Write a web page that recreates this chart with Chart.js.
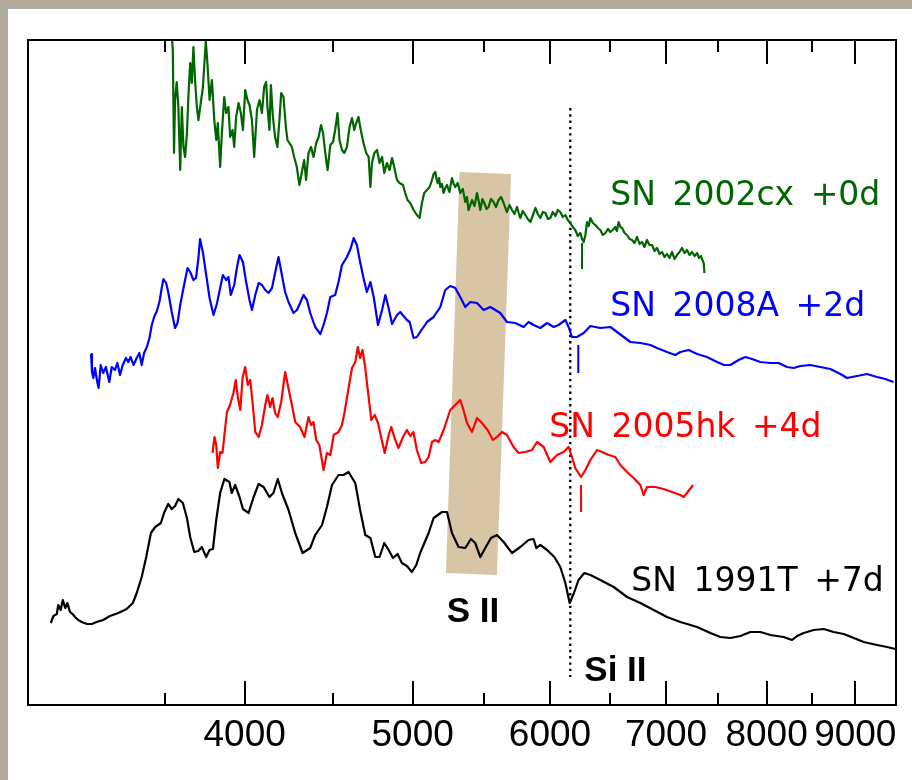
<!DOCTYPE html>
<html>
<head>
<meta charset="utf-8">
<script src="https://cdn.jsdelivr.net/npm/chart.js@4.4.1/dist/chart.umd.min.js"></script>
<style>
  html, body { margin: 0; padding: 0; }
  body { width: 912px; height: 780px; background: #b4aa9d; position: relative; overflow: hidden; }
  #panel { position: absolute; left: 8px; top: 9px; right: 0; bottom: 0; background: #fff; }
  #wrap { position: absolute; left: 0; top: 0; width: 912px; height: 780px; }
</style>
</head>
<body>
<div id="panel"></div>
<div id="wrap"><canvas id="chart" width="912" height="780"></canvas></div>
<script>
// Spectra of SN 1991T-like / 2002cx-like events, wavelength (A) vs scaled flux + offset

const majorTicks = [4000, 5000, 6000, 7000, 8000, 9000];
const minorTicks = [3600, 4500, 5500, 6500, 7500, 8500];

const wave1991T = [3092,3103,3117,3123,3133,3142,3152,3161,3172,3183,3193,3207,3222,3244,3265,3286,3315,3345,3382,3420,3448,3466,3489,3510,3532,3552,3579,3594,3614,3631,3647,3663,3685,3705,3721,3741,3761,3779,3801,3818,3835,3852,3872,3894,3920,3932,3950,3973,3991,4021,4048,4075,4102,4134,4156,4180,4203,4240,4278,4320,4364,4393,4433,4462,4492,4531,4561,4592,4633,4663,4695,4727,4758,4785,4815,4843,4871,4901,4929,4962,4995,5024,5050,5107,5141,5199,5233,5268,5314,5362,5402,5433,5470,5506,5548,5592,5642,5705,5768,5832,5871,5892,5924,5977,6035,6083,6124,6159,6191,6232,6280,6331,6415,6530,6647,6765,6886,7009,7134,7295,7424,7524,7624,7726,7830,7934,8040,8183,8275,8331,8404,8516,8630,8745,8863,8982,9101,9264,9388,9492];
const flux1991T = [0.82,0.89,0.91,1.00,0.95,1.05,0.97,1.02,0.93,0.91,0.88,0.85,0.83,0.81,0.81,0.83,0.85,0.89,0.92,0.96,1.02,1.12,1.28,1.48,1.72,1.78,1.82,1.92,2.01,1.96,1.99,2.06,2.02,1.87,1.68,1.53,1.54,1.58,1.48,1.55,1.56,1.85,2.12,2.26,2.23,2.12,2.20,2.08,1.96,1.92,2.08,2.21,2.18,2.08,2.12,2.26,2.12,1.95,1.72,1.52,1.57,1.70,1.80,1.98,2.20,2.30,2.30,2.33,2.22,1.95,1.70,1.67,1.48,1.48,1.62,1.55,1.47,1.51,1.42,1.39,1.33,1.40,1.52,1.72,1.87,1.93,1.93,1.72,1.58,1.57,1.66,1.62,1.48,1.57,1.67,1.70,1.63,1.52,1.58,1.65,1.66,1.57,1.60,1.55,1.48,1.38,1.22,1.02,1.11,1.25,1.32,1.30,1.25,1.18,1.08,1.02,0.95,0.88,0.83,0.78,0.72,0.68,0.67,0.69,0.73,0.73,0.70,0.68,0.65,0.69,0.72,0.75,0.76,0.73,0.71,0.67,0.63,0.60,0.58,0.56];

const wave2005hk = [3833,3843,3852,3860,3872,3884,3894,3907,3923,3941,3953,3964,3977,3989,4003,4017,4030,4042,4057,4075,4093,4111,4123,4138,4151,4165,4180,4199,4221,4236,4259,4278,4306,4331,4354,4369,4383,4399,4417,4442,4462,4482,4502,4531,4552,4568,4592,4613,4633,4649,4663,4678,4695,4712,4733,4754,4775,4796,4818,4843,4860,4881,4907,4933,4962,4984,5005,5028,5057,5084,5107,5130,5153,5175,5210,5256,5291,5326,5345,5374,5410,5446,5482,5523,5563,5592,5630,5667,5717,5755,5807,5859,5898,5950,6003,6057,6110,6150,6178,6205,6253,6289,6331,6387,6430,6487,6544,6588,6647,6705,6765,6795,6825,6901,6978,7056,7134,7166,7204,7256];
const flux2005hk = [2.52,2.68,2.60,2.37,2.53,2.52,2.70,2.93,3.00,3.12,3.25,3.08,2.95,3.27,3.38,3.20,3.25,3.03,2.73,2.68,2.80,3.00,3.10,2.98,3.07,2.92,2.88,3.03,3.33,3.20,3.00,2.83,2.78,2.68,2.88,2.80,2.83,2.65,2.60,2.35,2.52,2.50,2.70,2.73,2.80,2.93,3.17,3.37,3.43,3.58,3.47,3.55,3.37,3.13,2.85,2.90,2.82,2.67,2.52,2.70,2.78,2.67,2.57,2.67,2.75,2.69,2.73,2.55,2.42,2.43,2.48,2.63,2.65,2.63,2.75,2.95,3.00,3.05,2.97,2.82,2.73,2.87,2.82,2.75,2.65,2.68,2.73,2.70,2.58,2.52,2.53,2.55,2.63,2.58,2.43,2.50,2.53,2.58,2.48,2.37,2.28,2.35,2.45,2.55,2.53,2.50,2.48,2.40,2.33,2.27,2.20,2.10,2.18,2.18,2.16,2.13,2.10,2.08,2.13,2.20];

const wave2008A = [3262,3266,3272,3279,3289,3295,3304,3315,3327,3342,3353,3367,3378,3390,3402,3417,3427,3438,3451,3466,3478,3489,3500,3513,3525,3536,3547,3560,3572,3583,3591,3604,3614,3631,3647,3659,3672,3688,3708,3721,3737,3750,3762,3770,3784,3801,3818,3838,3855,3872,3886,3903,3915,3927,3945,3959,3973,3991,4008,4026,4039,4057,4075,4093,4111,4129,4148,4165,4184,4203,4221,4240,4268,4288,4306,4325,4345,4364,4393,4423,4442,4462,4482,4511,4531,4552,4582,4606,4623,4643,4663,4684,4705,4727,4748,4775,4801,4822,4843,4865,4897,4918,4962,4980,5006,5028,5050,5096,5141,5187,5221,5256,5291,5326,5362,5397,5446,5494,5543,5617,5667,5730,5794,5832,5871,5924,5977,6029,6069,6124,6150,6178,6219,6275,6331,6415,6501,6559,6618,6676,6765,6856,6917,7009,7087,7134,7214,7295,7391,7491,7560,7624,7708,7778,7847,7934,8040,8129,8220,8293,8367,8478,8592,8707,8824,8902,9021,9142,9264,9366,9470];
const flux2008A = [3.51,3.33,3.27,3.37,3.23,3.17,3.40,3.32,3.38,3.23,3.38,3.35,3.42,3.30,3.40,3.47,3.43,3.48,3.40,3.47,3.52,3.40,3.52,3.58,3.67,3.80,3.88,3.94,4.03,4.17,4.26,4.22,4.13,3.93,3.77,3.82,4.00,4.17,4.37,4.33,4.25,4.27,4.47,4.66,4.53,4.30,4.07,3.90,4.01,4.17,4.30,4.25,4.28,4.10,4.20,4.37,4.50,4.43,4.23,4.05,3.95,4.10,4.22,4.20,4.15,4.12,4.17,4.32,4.48,4.30,4.13,4.03,3.92,3.95,4.02,4.10,4.05,3.92,3.78,3.71,3.80,3.92,4.08,4.10,4.23,4.40,4.48,4.57,4.67,4.60,4.43,4.27,4.13,4.23,4.08,3.80,3.95,4.10,3.97,3.81,3.90,3.93,3.85,3.83,3.67,3.68,3.73,3.83,3.88,3.98,4.15,4.19,4.17,4.08,3.98,4.03,4.02,3.95,3.98,3.92,3.83,3.82,3.78,3.83,3.80,3.77,3.82,3.78,3.80,3.85,3.78,3.68,3.68,3.72,3.79,3.77,3.78,3.73,3.68,3.63,3.62,3.60,3.57,3.53,3.50,3.53,3.55,3.51,3.48,3.43,3.40,3.40,3.45,3.48,3.46,3.43,3.42,3.42,3.38,3.37,3.39,3.40,3.38,3.36,3.31,3.27,3.29,3.31,3.28,3.26,3.23];

const wave2002cx = [3631,3636,3642,3647,3655,3663,3672,3680,3688,3696,3705,3712,3721,3729,3737,3745,3754,3762,3770,3784,3792,3799,3807,3818,3830,3842,3852,3860,3872,3881,3893,3903,3915,3924,3936,3945,3955,3968,3980,3991,4003,4015,4026,4039,4051,4066,4080,4093,4105,4116,4123,4134,4142,4153,4165,4178,4189,4199,4212,4225,4234,4245,4259,4272,4287,4302,4315,4329,4340,4354,4369,4383,4399,4413,4427,4439,4452,4466,4482,4498,4511,4525,4537,4552,4566,4582,4598,4613,4627,4639,4653,4667,4684,4701,4716,4727,4737,4752,4769,4785,4801,4815,4832,4849,4865,4879,4897,4914,4936,4951,4966,4984,5006,5028,5046,5062,5077,5096,5114,5130,
  5141,5153,5161,5169,5178,5187,5198,5210,5221,5233,5250,5268,5280,5291,5308,5326,5344,5362,5374,5385,5398,5410,5428,5446,5458,5470,5485,5499,5515,5530,5548,5567,5585,5604,5623,5642,5655,5667,5686,5705,5724,5743,5756,5768,5788,5807,5826,5846,5866,5885,5904,5924,5944,5964,5984,6003,6023,6043,6063,6083,6103,6124,6144,6164,6185,6205,6226,6247,6261,6275,6289,6303,6317,6331,6352,6373,6394,6415,6436,6458,6480,6501,6522,6544,6558,6573,6588,6603,6625,6647,6669,6691,6713,6736,6758,6780,6802,6825,6848,6871,6894,6917,6940,6963,6986,7009,7032,7056,7080,7103,7126,7150,7174,7198,7222,7246,7270,7295,7314,7333,7346,7359,7366];
const flux2002cx = [6.70,6.55,5.52,6.05,6.23,5.98,5.35,5.98,5.58,5.48,5.72,6.08,6.42,6.22,6.58,6.25,5.98,5.85,5.97,6.17,6.42,6.64,6.42,6.05,6.25,5.85,5.65,5.82,5.38,5.72,6.08,5.92,5.98,5.68,5.75,5.58,5.88,6.02,5.92,5.75,6.15,6.05,6.00,5.85,5.48,5.95,6.05,5.92,6.18,6.23,5.98,5.75,6.20,5.88,5.68,5.58,5.85,6.12,6.08,5.78,5.65,5.62,5.58,5.48,5.38,5.20,5.32,5.45,5.25,5.52,5.58,5.48,5.62,5.68,5.80,5.72,5.52,5.35,5.60,5.63,5.75,5.92,5.65,5.55,5.52,5.58,5.78,5.87,5.75,5.82,5.88,5.75,5.62,5.52,5.48,5.18,5.42,5.52,5.55,5.42,5.48,5.32,5.42,5.35,5.47,5.38,5.25,5.22,5.20,5.12,5.05,5.02,4.95,4.90,4.87,5.02,5.12,5.15,5.18,5.25,
  5.31,5.33,5.26,5.22,5.27,5.18,5.21,5.12,5.17,5.20,5.13,5.27,5.21,5.18,5.22,5.12,5.16,5.03,5.08,4.95,5.00,5.05,4.99,5.12,5.04,4.95,5.06,5.02,4.96,4.98,5.06,5.03,4.98,5.05,5.08,5.02,4.97,4.93,5.00,4.95,4.91,4.98,4.92,4.87,4.94,4.90,4.86,4.83,4.90,4.97,4.91,4.87,4.93,4.92,4.86,4.87,4.93,4.89,4.95,4.93,4.88,4.90,4.85,4.82,4.78,4.75,4.69,4.72,4.66,4.63,4.70,4.83,4.79,4.87,4.82,4.80,4.77,4.75,4.70,4.72,4.76,4.73,4.75,4.78,4.74,4.83,4.78,4.77,4.72,4.70,4.66,4.65,4.62,4.68,4.61,4.63,4.58,4.65,4.60,4.60,4.54,4.57,4.51,4.53,4.48,4.51,4.47,4.53,4.46,4.50,4.53,4.57,4.52,4.55,4.50,4.53,4.49,4.52,4.47,4.49,4.45,4.42,4.32];

// Si II 6355 marker (dotted) and the short ticks under each spectrum
const siLineWave = [6164, 6164];
const siLineFlux = [5.97, 0.28];
const siTickWave = [6261, 6230, 6253];
const siTickTop = [4.62, 3.60, 2.20];
const siTickBottom = [4.36, 3.32, 1.93];

// S II band corners
const bandWave = [5321, 5698, 5592, 5226];
const bandFlux = [5.33, 5.31, 1.30, 1.32];

const colors = { cx: '#006600', a08: '#0000ff', hk: '#ff0000', t91: '#000000' };

const toPoints = (w, f) => w.map((x, i) => ({ x: x, y: f[i] }));

function spectrum(label, w, f, color) {
  return {
    label: label,
    data: toPoints(w, f),
    borderColor: color,
    borderWidth: 2.2,
    borderJoinStyle: 'round',
    pointRadius: 0,
    tension: 0,
    fill: false
  };
}

const tickColors = [colors.cx, colors.a08, colors.hk];
const markDatasets = siTickWave.map((w, i) => ({
  label: 'mark' + i,
  data: [{ x: w, y: siTickTop[i] }, { x: w, y: siTickBottom[i] }],
  borderColor: tickColors[i],
  borderWidth: 2,
  pointRadius: 0
}));

const textLabels = [
  { text: 'SN\u20022002cx\u2002+0d', x: 6501, y: 5.00, color: colors.cx, font: '33px "DejaVu Sans"' },
  { text: 'SN\u20022008A\u2002+2d', x: 6501, y: 3.89, color: colors.a08, font: '33px "DejaVu Sans"' },
  { text: 'SN\u20022005hk\u2002+4d', x: 5995, y: 2.68, color: colors.hk, font: '33px "DejaVu Sans"' },
  { text: 'SN\u20021991T\u2002+7d', x: 6685, y: 1.14, color: colors.t91, font: '33px "DejaVu Sans"' },
  { text: 'S II', x: 5231, y: 0.83, color: '#000', font: 'bold 35px "Liberation Sans", Arial, sans-serif' },
  { text: 'Si II', x: 6280, y: 0.24, color: '#000', font: 'bold 35px "Liberation Sans", Arial, sans-serif' }
];

const bandPlugin = {
  id: 'band',
  beforeDatasetsDraw(chart) {
    const { ctx, scales: { x, y } } = chart;
    ctx.save();
    ctx.fillStyle = '#d8c5a6';
    ctx.beginPath();
    bandWave.forEach((w, i) => {
      const px = x.getPixelForValue(w);
      const py = y.getPixelForValue(bandFlux[i]);
      if (i === 0) ctx.moveTo(px, py); else ctx.lineTo(px, py);
    });
    ctx.closePath();
    ctx.fill();
    ctx.restore();
  }
};

const framePlugin = {
  id: 'frame',
  afterDatasetsDraw(chart) {
    const { ctx, chartArea: a, scales: { x, y } } = chart;
    ctx.save();
    ctx.strokeStyle = '#000';
    ctx.lineWidth = 2;
    ctx.strokeRect(a.left, a.top, a.right - a.left, a.bottom - a.top);
    const tick = (v, len) => {
      const px = Math.round(x.getPixelForValue(v));
      ctx.beginPath();
      ctx.moveTo(px, a.bottom); ctx.lineTo(px, a.bottom - len);
      ctx.moveTo(px, a.top); ctx.lineTo(px, a.top + len);
      ctx.stroke();
    };
    majorTicks.forEach(v => tick(v, 24));
    minorTicks.forEach(v => tick(v, 12));

    // labels
    ctx.textBaseline = 'alphabetic';
    ctx.textAlign = 'left';
    textLabels.forEach(l => {
      ctx.font = l.font;
      ctx.fillStyle = l.color;
      ctx.fillText(l.text, x.getPixelForValue(l.x), y.getPixelForValue(l.y));
    });
    ctx.restore();
  }
};

const datasets = [
  spectrum('SN 2002cx +0d', wave2002cx, flux2002cx, colors.cx),
  spectrum('SN 2008A +2d', wave2008A, flux2008A, colors.a08),
  spectrum('SN 2005hk +4d', wave2005hk, flux2005hk, colors.hk),
  spectrum('SN 1991T +7d', wave1991T, flux1991T, colors.t91),
  {
    label: 'Si II',
    data: toPoints(siLineWave, siLineFlux),
    borderColor: '#000',
    borderWidth: 2.4,
    borderDash: [2.4, 3.9],
    pointRadius: 0
  }
].concat(markDatasets);

new Chart(document.getElementById('chart'), {
  type: 'line',
  data: { datasets: datasets },
  options: {
    responsive: false,
    animation: false,
    events: [],
    layout: { padding: { left: 28, right: 16, top: 40, bottom: 0 } },
    plugins: { legend: { display: false }, tooltip: { enabled: false } },
    scales: {
      x: {
        type: 'logarithmic',
        min: 3000,
        max: 9500,
        bounds: 'data',
        grid: { display: false, drawTicks: false },
        border: { display: false },
        afterBuildTicks: (s) => { s.ticks = majorTicks.map(v => ({ value: v })); },
        afterFit: (s) => { s.height = 75; },
        ticks: {
          autoSkip: false,
          maxRotation: 0,
          minRotation: 0,
          padding: 9,
          color: '#000',
          font: { family: '"Liberation Sans", Arial, sans-serif', size: 37 },
          callback: (v) => String(v)
        }
      },
      y: { display: false, min: 0, max: 6.65 }
    }
  },
  plugins: [bandPlugin, framePlugin]
});
</script>
</body>
</html>
